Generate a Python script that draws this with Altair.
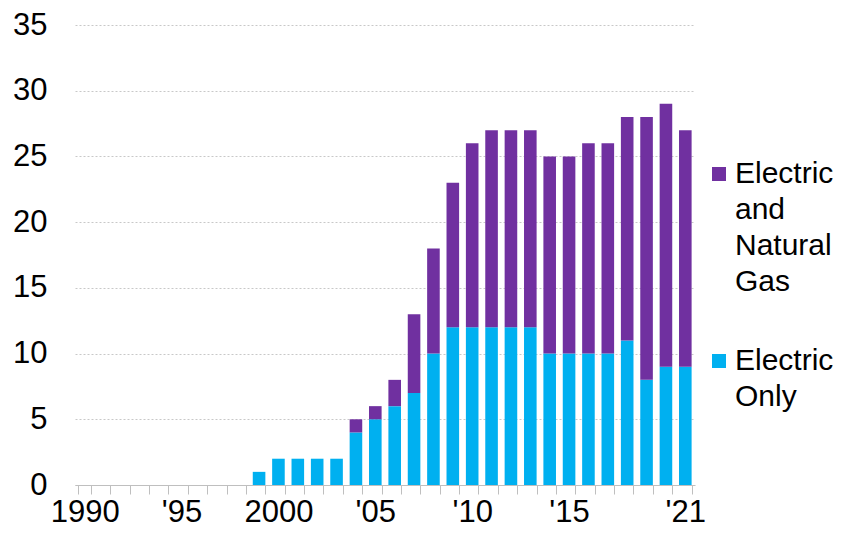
import altair as alt
import pandas as pd

years = list(range(1990, 2022))
electric_only = [0] * 9 + [1, 2, 2, 2, 2, 4, 5, 6, 7, 10, 12, 12, 12, 12, 12, 10, 10, 10, 10, 11, 8, 9, 9]
electric_gas = [0] * 9 + [0, 0, 0, 0, 0, 1, 1, 2, 6, 8, 11, 14, 15, 15, 15, 15, 15, 16, 16, 17, 20, 20, 18]
series = ["Electric and Natural Gas", "Electric Only"]
colors = ["#7030A0", "#00B0F0"]
tick_labels = {1990: "1990", 1995: "'95", 2000: "2000", 2005: "'05", 2010: "'10", 2015: "'15", 2021: "'21"}
y_ticks = [0, 5, 10, 15, 20, 25, 30, 35]

rows = []
for y, eo, eg in zip(years, electric_only, electric_gas):
    rows.append({"year": y, "series": "Electric Only", "value": eo, "stack": 0})
    rows.append({"year": y, "series": "Electric and Natural Gas", "value": eg, "stack": 1})
df = pd.DataFrame(rows)

label_expr = " : ".join(
    [f"datum.value == {k} ? \"{v}\"" for k, v in tick_labels.items()]
) + " : ''"

FONT = "Liberation Sans"

chart = (
    alt.Chart(df)
    .mark_bar()
    .encode(
        x=alt.X(
            "year:O",
            scale=alt.Scale(paddingInner=0.35, paddingOuter=0.175),
            axis=alt.Axis(
                title=None,
                labelExpr=label_expr,
                labelAngle=0,
                tickBand="extent",
                tickSize=9,
                tickColor="#BFBFBF",
                domainColor="#BFBFBF",
                labelFontSize=31,
                labelFont=FONT,
                labelColor="#000000",
                labelPadding=3,
                labelOverlap=False,
                labelFlush=False,
                grid=False,
            ),
        ),
        y=alt.Y(
            "value:Q",
            stack="zero",
            scale=alt.Scale(domain=[0, 35], nice=False),
            axis=alt.Axis(
                title=None,
                values=y_ticks,
                ticks=False,
                domain=False,
                grid=True,
                gridColor="#C8C8C8",
                gridDash=[2, 2],
                gridWidth=1,
                labelFontSize=31,
                labelFont=FONT,
                labelColor="#000000",
                labelPadding=28,
            ),
        ),
        color=alt.Color(
            "series:N",
            scale=alt.Scale(domain=series, range=colors),
            legend=alt.Legend(
                title=None,
                orient="none",
                legendX=629,
                legendY=134,
                symbolType="square",
                symbolSize=196,
                symbolStrokeWidth=0,
                labelFontSize=30,
                labelFont=FONT,
                labelColor="#000000",
                labelLimit=0,
                labelOffset=1,
                labelExpr="split(datum.label, ' ')",
                rowPadding=49,
                padding=0,
            ),
        ),
        order=alt.Order("stack:Q", sort="ascending"),
    )
    .properties(
        width=620,
        height=460,
        autosize=alt.AutoSizeParams(type="none"),
        padding={"left": 67, "top": 17, "right": 141, "bottom": 47},
    )
    .configure(style={"guide-label": {"lineHeight": 36}})
    .configure_view(stroke=None)
)

chart.save("out.html", embed_options={"renderer": "svg", "actions": False})
